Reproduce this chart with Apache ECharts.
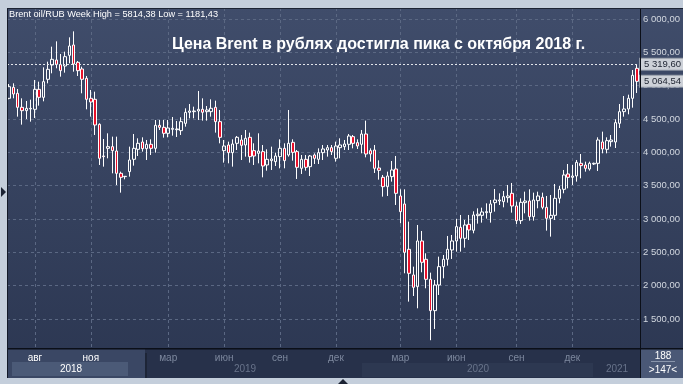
<!DOCTYPE html>
<html lang="ru">
<head>
<meta charset="utf-8">
<title>Brent oil/RUB Week</title>
<script src="https://cdn.jsdelivr.net/npm/echarts@6/dist/echarts.min.js"></script>
<style>
html, body { margin: 0; padding: 0; background: #c4cedb; }
#chart { width: 683px; height: 384px; }
</style>
</head>
<body>
<div id="chart"></div>
<script>
// недельные свечи Brent oil/RUB, читаются с картинки
var opens = [
  4810, 4975, 4885, 4675, 4625, 4650, 4645, 4945, 4825, 5095,
  5310, 5385, 5315, 5295, 5455, 5610, 5350, 5250, 5110, 4810,
  4795, 4420, 3945, 4060, 4085, 4020, 3685, 3640, 3710, 3895,
  4045, 4155, 4055, 4120, 4060, 4405, 4375, 4285, 4345, 4340,
  4325, 4435, 4600, 4610, 4620, 4645, 4610, 4610, 4675, 4460,
  4025, 4110, 3995, 4135, 4185, 4110, 4225, 4025, 3985, 4010,
  3810, 3875, 3860, 3935, 4060, 3960, 4150, 4010, 3760, 3895,
  3785, 3960, 3895, 3995, 4035, 4070, 3910, 4070, 4085, 4120,
  4235, 4145, 4120, 4275, 4025, 4035, 3765, 3625, 3485, 3635,
  3750, 3345, 3225, 2545, 2160, 1985, 2670, 2395, 2095, 1625,
  2010, 2285, 2395, 2535, 2670, 2875, 2710, 2920, 2830, 3050,
  3055, 3095, 3095, 3245, 3270, 3260, 3320, 3385, 3195, 2975,
  3245, 3270, 3035, 3275, 3325, 3175, 3010, 3055, 3310, 3445,
  3675, 3625, 3645, 3835, 3810, 3750, 3825, 3835, 4155, 4045,
  4160, 4155, 4435, 4610, 4650, 4810, 5260
];
var closes = [
  4985, 4875, 4675, 4625, 4660, 4660, 4945, 4825, 5060, 5245,
  5395, 5320, 5225, 5435, 5595, 5325, 5225, 5095, 4795, 4755,
  4410, 3910, 3935, 4085, 4025, 3685, 3625, 3635, 3885, 4060,
  4135, 4055, 4120, 4060, 4405, 4375, 4285, 4365, 4360, 4350,
  4460, 4600, 4620, 4620, 4645, 4600, 4635, 4660, 4460, 4225,
  4095, 3995, 4125, 4225, 4105, 4210, 3935, 3945, 4020, 3795,
  3895, 3900, 3945, 4060, 3875, 4135, 4000, 3775, 3895, 3775,
  3945, 3910, 3995, 4050, 4070, 4010, 4095, 4110, 4125, 4245,
  4135, 4095, 4275, 3975, 3975, 3760, 3730, 3485, 3645, 3735,
  3385, 3110, 2500, 2185, 1975, 2670, 2350, 2095, 1625, 2010,
  2285, 2395, 2545, 2670, 2885, 2710, 2910, 2835, 3060, 3072,
  3105, 3110, 3225, 3285, 3285, 3335, 3345, 3195, 2975, 3250,
  3270, 3035, 3285, 3345, 3175, 3010, 3055, 3310, 3445, 3660,
  3625, 3645, 3850, 3800, 3760, 3835, 3835, 4185, 4050, 4175,
  4185, 4445, 4610, 4650, 4810, 5155, 5064.54
];
var lows = [
  4795, 4810, 4535, 4415, 4500, 4460, 4515, 4700, 4765, 5035,
  5185, 5260, 5135, 5195, 5335, 5210, 5145, 4885, 4645, 4535,
  4260, 3810, 3785, 3910, 3685, 3510, 3395, 3595, 3635, 3800,
  3945, 4010, 3885, 3960, 3995, 4335, 4220, 4225, 4250, 4230,
  4260, 4385, 4510, 4510, 4485, 4475, 4475, 4535, 4295, 4135,
  3845, 3835, 3785, 4035, 3885, 3935, 3845, 3810, 3835, 3625,
  3725, 3735, 3795, 3760, 3760, 3935, 3875, 3600, 3675, 3725,
  3645, 3825, 3825, 3885, 3935, 3960, 3860, 3910, 4035, 4035,
  4060, 4050, 3985, 3925, 3860, 3690, 3590, 3335, 3345, 3560,
  3210, 2935, 2185, 1760, 1845, 1660, 2200, 1960, 1181.43, 1350,
  1860, 2110, 2300, 2400, 2510, 2510, 2570, 2685, 2785, 2930,
  2945, 3005, 2945, 3110, 3210, 3175, 3245, 3095, 2925, 2925,
  3085, 2975, 2975, 3160, 3145, 2825, 2735, 2985, 3235, 3385,
  3460, 3510, 3560, 3610, 3710, 3725, 3810, 3720, 3985, 3985,
  4085, 4065, 4365, 4535, 4570, 4670, 4890
];
var highs = [
  5025, 5035, 4950, 4810, 4770, 4790, 5085, 5060, 5275, 5360,
  5585, 5665, 5475, 5510, 5725, 5814.38, 5370, 5285, 5145, 4935,
  4910, 4435, 4200, 4285, 4235, 4235, 3710, 3645, 4085, 4275,
  4210, 4225, 4185, 4195, 4485, 4485, 4485, 4485, 4530, 4470,
  4525, 4660, 4725, 4685, 4920, 4810, 4695, 4795, 4775, 4635,
  4185, 4160, 4195, 4245, 4260, 4335, 4295, 4135, 4285, 4110,
  4045, 4085, 3995, 4195, 4135, 4635, 4195, 4035, 3960, 3960,
  3960, 3985, 4060, 4110, 4110, 4110, 4160, 4210, 4185, 4275,
  4260, 4195, 4335, 4475, 4060, 4110, 3880, 3660, 3710, 3870,
  3945, 3445, 3445, 2960, 2285, 2910, 2820, 2485, 2195, 2085,
  2435, 2460, 2745, 2760, 3000, 3060, 2985, 3060, 3115, 3160,
  3170, 3235, 3285, 3450, 3385, 3420, 3510, 3540, 3260, 3310,
  3410, 3445, 3395, 3410, 3395, 3345, 3360, 3525, 3495, 3735,
  3825, 3810, 3885, 3975, 3860, 3860, 3845, 4225, 4310, 4225,
  4260, 4495, 4725, 4845, 4865, 5235, 5319.6
];

// подписи месяцев по номеру недели
var monthTicks = {6: 'авг', 19: 'ноя', 37: 'мар', 50: 'июн', 63: 'сен', 76: 'дек',
                  91: 'мар', 104: 'июн', 118: 'сен', 131: 'дек'};
var brightTicks = [6, 19];
var yearLabels = ['2018', '2019', '2020', '2021'];

var weeks = [], candles = [];
for (var i = 0; i < opens.length; i++) {
  weeks.push(String(i));
  candles.push([opens[i], closes[i], lows[i], highs[i]]);
}
var last = opens.length - 1;

function rub(v) {
  var s = Number(v).toFixed(2).split('.');
  return s[0].replace(/\B(?=(\d{3})+(?!\d))/g, ' ') + ',' + s[1];
}
function plain(v) {
  return Number(v).toFixed(2).replace('.', ',');
}

var font = 'Liberation Sans, Arial, sans-serif';
var narrow = '"Liberation Sans Narrow", "Arial Narrow", "Liberation Sans", sans-serif';
var tagLabel = {
  show: true, position: 'end', distance: 1,
  formatter: function (p) { return rub(p.value); },
  backgroundColor: '#cdd1d8', borderColor: '#8f97a5', borderWidth: 1,
  color: '#1c2230', fontSize: 9.5, fontFamily: narrow, padding: [1, 3, 0, 4]
};

var chart = echarts.init(document.getElementById('chart'));
chart.setOption({
  animation: false,
  backgroundColor: {
    type: 'linear', x: 0, y: 0, x2: 0, y2: 1,
    colorStops: [{offset: 0, color: '#404d6b'}, {offset: 1, color: '#2b3651'}]
  },
  title: [
    {
      text: 'Brent oil/RUB Week High = ' + plain(Math.max.apply(null, highs)) +
            ' Low = ' + plain(Math.min.apply(null, lows)),
      left: 9, top: 10, padding: 0,
      textStyle: {color: '#ffffff', fontSize: 9.2, fontWeight: 'normal', fontFamily: font}
    },
    {
      text: 'Цена Brent в рублях достигла пика с октября 2018 г.',
      left: 172, top: 37, padding: 0,
      textStyle: {color: '#ffffff', fontSize: 16, fontWeight: 'bold', fontFamily: font}
    }
  ],
  grid: {left: 7, right: 44, top: 8, bottom: 31.7},
  xAxis: {
    type: 'category', data: weeks, boundaryGap: true,
    axisLine: {show: false}, axisTick: {show: false},
    axisLabel: {
      interval: function (idx) { return monthTicks[idx] !== undefined; },
      formatter: function (v) { return monthTicks[+v] || ''; },
      color: function (v) { return brightTicks.indexOf(+v) >= 0 ? '#ffffff' : '#7d889e'; },
      fontSize: 10, fontFamily: font, margin: 1
    },
    splitLine: {
      show: true, alignWithLabel: true,
      interval: function (idx) { return monthTicks[idx] !== undefined; },
      lineStyle: {color: '#5b6883', type: [3, 3], width: 1}
    }
  },
  yAxis: {
    type: 'value', position: 'right', min: 1000, max: 6165, interval: 500,
    axisLine: {show: false}, axisTick: {show: false},
    axisLabel: {
      formatter: rub, color: '#d3d8e0', fontSize: 9.5, fontFamily: narrow, margin: 4,
      showMinLabel: false, showMaxLabel: false
    },
    splitLine: {showMinLine: false, showMaxLine: false,
      lineStyle: {color: '#5b6883', type: [3, 3], width: 1}}
  },
  series: [{
    type: 'candlestick',
    data: candles,
    barWidth: 3,
    itemStyle: {
      color: 'rgba(0,0,0,0)', color0: '#e8102a',
      borderColor: '#ffffff', borderColor0: '#ffffff', borderColorDoji: '#ffffff',
      borderWidth: 1
    },
    emphasis: {disabled: true},
    markLine: {
      symbol: 'none', silent: true, animation: false,
      data: [
        {yAxis: highs[last], lineStyle: {color: '#e4e7ec', type: [2, 2], width: 1}, label: tagLabel},
        {yAxis: closes[last], lineStyle: {color: 'rgba(0,0,0,0)', width: 1}, label: tagLabel}
      ]
    }
  }],
  graphic: [
    // нижняя полоса со шкалой времени
    {type: 'rect', z: -1, shape: {x: 7, y: 349, width: 676, height: 29}, style: {fill: '#27314a'}},
    {type: 'rect', z: -1, shape: {x: 8, y: 349, width: 137, height: 29}, style: {fill: '#3a4764'}},
    {type: 'rect', z: -1, shape: {x: 145, y: 349, width: 2, height: 29}, style: {fill: '#1d2537'}},
    {type: 'rect', z: -1, shape: {x: 12, y: 362, width: 116, height: 14}, style: {fill: '#4b5a77'}},
    {type: 'rect', z: -1, shape: {x: 362, y: 363, width: 231, height: 14}, style: {fill: '#2d3851'}},
    {type: 'rect', z: -1, shape: {x: 641, y: 349, width: 42, height: 29}, style: {fill: '#4a5876'}},
    {type: 'rect', z: 1, shape: {x: 7, y: 349, width: 138, height: 4}, style: {fill: '#3a4764'}},
    {type: 'rect', z: 1, shape: {x: 145, y: 349, width: 495, height: 4}, style: {fill: '#27314a'}},
    {type: 'text', z: 2, x: 71, y: 369, style: {text: yearLabels[0], fill: '#ffffff', font: '10px ' + font, align: 'center', verticalAlign: 'middle'}},
    {type: 'text', z: 2, x: 245, y: 369, style: {text: yearLabels[1], fill: '#68738a', font: '10px ' + font, align: 'center', verticalAlign: 'middle'}},
    {type: 'text', z: 2, x: 478, y: 369, style: {text: yearLabels[2], fill: '#68738a', font: '10px ' + font, align: 'center', verticalAlign: 'middle'}},
    {type: 'text', z: 2, x: 617, y: 369, style: {text: yearLabels[3], fill: '#68738a', font: '10px ' + font, align: 'center', verticalAlign: 'middle'}},
    {type: 'text', z: 2, x: 663, y: 356, style: {text: '188', fill: '#ffffff', font: '10px ' + font, align: 'center', verticalAlign: 'middle'}},
    {type: 'rect', z: 2, shape: {x: 651, y: 361, width: 24, height: 1}, style: {fill: '#8995ab'}},
    {type: 'text', z: 2, x: 663, y: 370, style: {text: '>' + candles.length + '<', fill: '#ffffff', font: '10px ' + font, align: 'center', verticalAlign: 'middle'}},
    // рамка
    {type: 'rect', z: 100, shape: {x: 7, y: 348, width: 676, height: 1.5}, style: {fill: '#0b0f18'}},
    {type: 'rect', z: 100, shape: {x: 640, y: 8, width: 1, height: 370}, style: {fill: '#0b0f18'}},
    {type: 'rect', z: 100, shape: {x: 7, y: 8, width: 1, height: 370}, style: {fill: '#141a28'}},
    {type: 'rect', z: 100, shape: {x: 7, y: 8, width: 676, height: 1}, style: {fill: '#1c2333'}},
    {type: 'rect', z: 100, shape: {x: 0, y: 0, width: 7, height: 384}, style: {fill: '#c4cedb'}},
    {type: 'rect', z: 100, shape: {x: 0, y: 0, width: 683, height: 8}, style: {fill: '#c4cedb'}},
    {type: 'rect', z: 100, shape: {x: 0, y: 378, width: 683, height: 6}, style: {fill: '#c4cedb'}},
    {type: 'polygon', z: 101, shape: {points: [[1, 187], [1, 197], [6, 192]]}, style: {fill: '#1b2233'}},
    {type: 'polygon', z: 101, shape: {points: [[338, 384], [348, 384], [343, 379]]}, style: {fill: '#1b2233'}}
  ]
});
</script>
</body>
</html>
